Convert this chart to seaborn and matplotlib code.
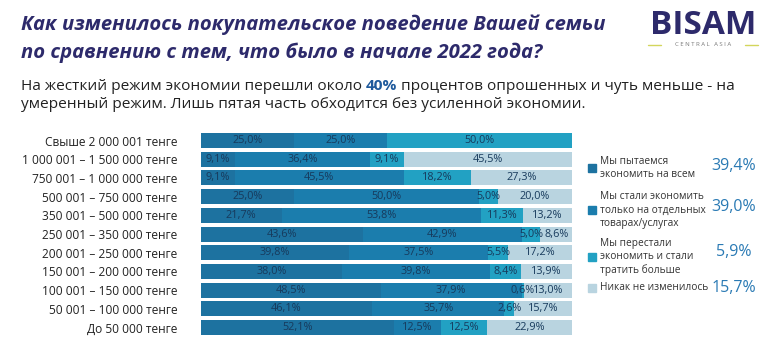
import matplotlib
matplotlib.use("Agg")
import matplotlib.pyplot as plt
import seaborn as sns
import numpy as np
from matplotlib.lines import Line2D
from matplotlib.patches import Rectangle

# income groups, top to bottom
categories = ["Свыше 2 000 001 тенге",
              "1 000 001 – 1 500 000 тенге",
              "750 001 – 1 000 000 тенге",
              "500 001 – 750 000 тенге",
              "350 001 – 500 000 тенге",
              "250 001 – 350 000 тенге",
              "200 001 – 250 000 тенге",
              "150 001 – 200 000 тенге",
              "100 001 – 150 000 тенге",
              "50 001 – 100 000 тенге",
              "До 50 000 тенге"]

economy_all = [25.0, 9.1, 9.1, 25.0, 21.7, 43.6, 39.8, 38.0, 48.5, 46.1, 52.1]
economy_some = [25.0, 36.4, 45.5, 50.0, 53.8, 42.9, 37.5, 39.8, 37.9, 35.7, 12.5]
spend_more = [50.0, 9.1, 18.2, 5.0, 11.3, 5.0, 5.5, 8.4, 0.6, 2.6, 12.5]
no_change = [0.0, 45.5, 27.3, 20.0, 13.2, 8.6, 17.2, 13.9, 13.0, 15.7, 22.9]

series_names = ["Мы пытаемся\nэкономить на всем",
                "Мы стали экономить\nтолько на отдельных\nтоварах/услугах",
                "Мы перестали\nэкономить и стали\nтратить больше",
                "Никак не изменилось"]
series_totals = ["39,4%", "39,0%", "5,9%", "15,7%"]

colors = ["#1d72a0", "#1b7dad", "#22a1c3", "#b9d4e0"]

sns.set_theme(style="white")
plt.rcParams['font.family'] = ['Open Sans', 'DejaVu Sans']

W, H = 778, 353
fig = plt.figure(figsize=(W / 100, H / 100), dpi=100)


def fx(x):
    return x / W


def fy(y):
    return 1 - y / H


ax = fig.add_axes([fx(201), fy(336.9), 371 / W, 205.7 / H])

vals = np.array([economy_all, economy_some, spend_more, no_change])
cum = np.cumsum(vals, axis=0)

# stacked bars: draw cumulative totals from the widest down
for i in reversed(range(4)):
    sns.barplot(x=cum[i], y=categories, orient="h", color=colors[i],
                saturation=1, width=0.8, linewidth=0, ax=ax)

for r in range(len(categories)):
    for i in range(4):
        v = vals[i][r]
        if v <= 0:
            continue
        c = cum[i][r] - v / 2
        ax.text(c, r, "{:.1f}%".format(v).replace(".", ","), ha="center",
                va="center", fontsize=7.8, color="#173a5c")

ax.set_xlim(0, 100)
ax.set_ylim(10.5, -0.5)
ax.set_xlabel("")
ax.set_ylabel("")
ax.set_xticks([])
for s in ax.spines.values():
    s.set_visible(False)
ax.tick_params(axis="y", length=0, pad=17, labelsize=8.6, labelcolor="#222222")

# title
title_col = "#2d2a6b"
fig.text(fx(21), fy(25), "Как изменилось покупательское поведение Вашей семьи",
         fontsize=14.6, fontweight="bold", fontstyle="italic", color=title_col,
         va="center", ha="left")
fig.text(fx(21), fy(53), "по сравнению с тем, что было в начале 2022 года?",
         fontsize=14.6, fontweight="bold", fontstyle="italic", color=title_col,
         va="center", ha="left")

# subtitle with highlighted 40%
renderer = fig.canvas.get_renderer()
sub_size = 11.1
t1 = fig.text(fx(21), fy(86), "На жесткий режим экономии перешли около ",
              fontsize=sub_size, color="#222222", va="center", ha="left")
bb = t1.get_window_extent(renderer)
t2 = fig.text(bb.x1 / W, fy(86), "40%", fontsize=sub_size, color="#1f5a9c",
              fontweight="bold", va="center", ha="left")
bb = t2.get_window_extent(renderer)
fig.text(bb.x1 / W, fy(86),
         " процентов опрошенных и чуть меньше - на",
         fontsize=sub_size, color="#222222", va="center", ha="left")
fig.text(fx(21), fy(105),
         "умеренный режим. Лишь пятая часть обходится без усиленной экономии.",
         fontsize=sub_size, color="#222222", va="center", ha="left")

# logo
fig.text(fx(703), fy(26), "BISAM", fontsize=24, fontweight="bold",
         color=title_col, ha="center", va="center")
fig.text(fx(703), fy(45), "C E N T R A L   A S I A", fontsize=4.3,
         color="#777777", ha="center", va="center")
fig.add_artist(Line2D([fx(648), fx(661)], [fy(45), fy(45)], color="#d3d65c", lw=1))
fig.add_artist(Line2D([fx(745), fx(758)], [fy(45), fy(45)], color="#d3d65c", lw=1))

# legend
leg_y = [168, 210, 257, 288]
val_y = [166, 207, 252, 288]
for i in range(4):
    fig.add_artist(Rectangle((fx(588), fy(leg_y[i] + 4)), 8 / W, 8 / H,
                             color=colors[i], transform=fig.transFigure))
    fig.text(fx(600), fy(leg_y[i]), series_names[i], fontsize=7.3,
             color="#333333", ha="left", va="center", linespacing=1.3)
    fig.text(fx(734), fy(val_y[i]), series_totals[i], fontsize=11.5,
             color="#2a7ab4", ha="center", va="center")

fig.savefig("out.png", dpi=100)
